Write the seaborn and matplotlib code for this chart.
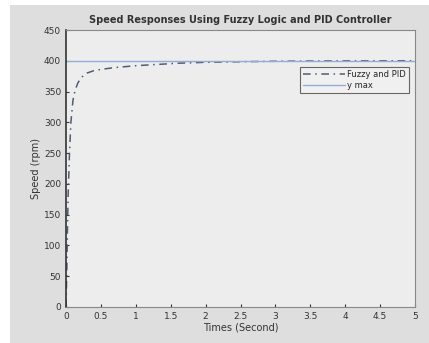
import numpy as np
import pandas as pd
import matplotlib
matplotlib.use("Agg")
import matplotlib.pyplot as plt
import seaborn as sns
from matplotlib.patches import Rectangle

# speed response
time_s = [0, 0.01, 0.02, 0.03, 0.05, 0.07, 0.1, 0.13, 0.17, 0.22, 0.3, 0.4, 0.5,
          0.7, 1.0, 1.3, 1.6, 2.0, 2.5, 3.0, 3.5, 4.0, 4.5, 5.0]
speed_rpm = [0, 50, 120, 180, 250, 300, 336, 352, 364, 373, 380, 384, 386,
             389, 392, 394, 396, 397.5, 398.5, 399.2, 399.6, 399.8, 399.9, 400]
y_max = 400

xticks = [0, 0.5, 1, 1.5, 2, 2.5, 3, 3.5, 4, 4.5, 5]
yticks = [0, 50, 100, 150, 200, 250, 300, 350, 400, 450]

df = pd.DataFrame({"t": time_s, "speed": speed_rpm})

sns.set_style("ticks")
plt.rcParams["font.family"] = ["DejaVu Sans"]

fig = plt.figure(figsize=(4.29, 3.43), dpi=100, facecolor="white")
fig.patches.append(Rectangle((10 / 429, 0), 1, 1 - 5 / 343, transform=fig.transFigure,
                             facecolor="#dedede", edgecolor="none", zorder=-10))
ax = fig.add_axes([66 / 429, 1 - 307 / 343, (415 - 66) / 429, (307 - 30) / 343])
ax.set_facecolor("#ededed")

sns.lineplot(data=df, x="t", y="speed", ax=ax, color="#4f5d73", lw=1.1,
             linestyle=(0, (5, 3, 1, 3)), label="Fuzzy and PID")
ax.axhline(y_max, color="#93acd8", lw=1.0, label="y max")

ax.set_xlim(0, 5)
ax.set_ylim(0, 450)
ax.set_xticks(xticks)
ax.set_xticklabels([f"{v:g}" for v in xticks])
ax.set_yticks(yticks)
ax.tick_params(labelsize=6.5, colors="#333333", length=2, direction="in")
ax.set_xlabel("Times (Second)", fontsize=7, color="#333333", labelpad=1)
ax.set_ylabel("Speed (rpm)", fontsize=7, color="#333333", labelpad=2)
ax.set_title("Speed Responses Using Fuzzy Logic and PID Controller",
             fontsize=7, fontweight="bold", color="#333333", pad=5)
for s in ax.spines.values():
    s.set_color("#888888")
    s.set_linewidth(0.8)
ax.spines["left"].set_color("#333333")
ax.spines["left"].set_linewidth(1.2)

leg = ax.legend(loc="upper right", bbox_to_anchor=(0.995, 0.88), fontsize=6,
                frameon=True, fancybox=False, handlelength=5, borderpad=0.35,
                labelspacing=0.25, handletextpad=0.3, markerfirst=True)
leg.get_frame().set_edgecolor("#444444")
leg.get_frame().set_facecolor("#f2f2f2")
leg.get_frame().set_linewidth(0.8)

fig.savefig("out.png", dpi=100, facecolor=fig.get_facecolor())
